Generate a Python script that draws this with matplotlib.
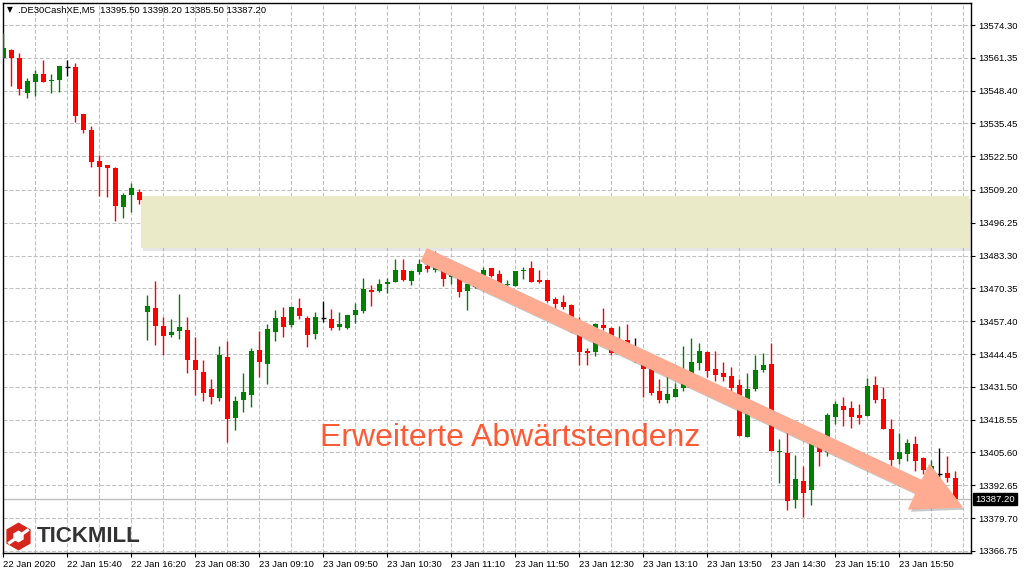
import numpy as np
import matplotlib
matplotlib.use("Agg")
import matplotlib.pyplot as plt
import matplotlib.patheffects as pe
from matplotlib.patches import Rectangle, Polygon, FancyArrowPatch
from matplotlib.transforms import IdentityTransform, blended_transform_factory

plt.rcParams['font.family'] = ['Liberation Sans', 'DejaVu Sans']
plt.rcParams['lines.scale_dashes'] = False

symbol = ".DE30CashXE,M5"

# M5 candles
opens = [13561.3, 13564.4, 13561.3, 13547.5, 13551.8, 13555.0, 13552.2, 13552.6, 13557.7, 13557.7,
         13539.2, 13532.9, 13520.6, 13519.1, 13517.9, 13502.5, 13507.2, 13508.4, 13461.1, 13462.6,
         13455.5, 13452.0, 13453.6, 13454.0, 13442.1, 13437.4, 13430.7, 13427.1, 13443.3, 13419.2,
         13426.3, 13428.3, 13446.1, 13440.5, 13453.2, 13459.1, 13455.9, 13462.6, 13458.7, 13452.4,
         13458.7, 13458.3, 13455.1, 13454.7, 13459.9, 13461.5, 13469.7, 13469.3, 13472.1, 13472.9,
         13477.6, 13473.3, 13476.8, 13479.2, 13477.6, 13481.6, 13474.9, 13474.9, 13469.3, 13470.9,
         13474.1, 13478.4, 13476.1, 13471.7, 13471.3, 13477.2, 13478.4, 13473.7, 13473.7, 13466.2,
         13465.0, 13463.8, 13457.5, 13445.7, 13445.3, 13455.9, 13454.7, 13446.9, 13450.0, 13444.5,
         13445.3, 13438.6, 13429.9, 13426.3, 13427.5, 13431.1, 13436.2, 13440.9, 13445.3, 13438.6,
         13437.0, 13435.8, 13432.3, 13411.7, 13430.7, 13438.2, 13440.5, 13405.8, 13405.4, 13386.9,
         13394.4, 13390.8, 13408.6, 13405.8, 13419.6, 13424.0, 13423.2, 13420.4, 13420.0, 13432.3,
         13426.7, 13414.9, 13403.1, 13405.0, 13409.0, 13403.4, 13397.9, 13397.1, 13397.5, 13395.5]
highs = [13571.2, 13564.8, 13563.3, 13553.4, 13556.6, 13560.5, 13555.0, 13558.1, 13560.5, 13559.3,
         13539.2, 13534.5, 13523.0, 13519.1, 13518.3, 13508.0, 13512.0, 13509.6, 13467.8, 13473.3,
         13459.1, 13458.3, 13468.2, 13459.1, 13451.2, 13442.1, 13434.6, 13447.6, 13449.6, 13427.9,
         13437.0, 13446.9, 13453.6, 13456.3, 13461.8, 13463.0, 13463.4, 13466.6, 13459.5, 13461.1,
         13465.4, 13462.2, 13461.1, 13459.9, 13464.6, 13474.5, 13471.7, 13474.1, 13474.5, 13482.0,
         13482.0, 13477.6, 13482.0, 13480.8, 13485.1, 13483.2, 13478.4, 13475.7, 13472.1, 13473.7,
         13478.8, 13478.4, 13477.6, 13473.7, 13477.2, 13478.8, 13481.2, 13477.6, 13473.7, 13467.0,
         13467.8, 13464.2, 13459.1, 13446.9, 13456.7, 13462.6, 13455.1, 13455.5, 13456.3, 13450.8,
         13446.1, 13438.6, 13434.6, 13436.2, 13433.0, 13447.6, 13450.8, 13448.8, 13445.7, 13445.7,
         13441.3, 13439.4, 13434.6, 13437.0, 13444.1, 13444.9, 13448.8, 13410.9, 13413.7, 13404.6,
         13400.3, 13410.6, 13413.3, 13421.2, 13425.9, 13427.5, 13425.9, 13424.8, 13435.0, 13435.8,
         13431.5, 13418.8, 13413.3, 13410.9, 13412.1, 13403.8, 13402.7, 13407.4, 13404.2, 13398.2]
lows = [13561.3, 13550.2, 13546.7, 13545.5, 13546.3, 13551.8, 13547.5, 13547.9, 13554.2, 13536.0,
        13531.7, 13518.3, 13506.8, 13506.4, 13497.0, 13498.2, 13500.5, 13503.7, 13450.0, 13448.0,
        13444.1, 13451.2, 13450.4, 13437.0, 13428.3, 13425.9, 13424.8, 13425.9, 13409.8, 13414.5,
        13421.6, 13423.6, 13435.4, 13432.6, 13449.6, 13451.2, 13455.1, 13458.3, 13447.2, 13450.4,
        13457.1, 13454.0, 13454.0, 13454.4, 13456.7, 13460.7, 13463.4, 13469.0, 13468.6, 13472.9,
        13473.3, 13471.7, 13476.1, 13476.8, 13476.8, 13471.3, 13472.1, 13467.0, 13461.8, 13470.5,
        13473.3, 13474.9, 13471.3, 13469.7, 13471.3, 13474.1, 13472.9, 13472.5, 13465.0, 13461.1,
        13462.2, 13453.2, 13440.1, 13440.1, 13443.7, 13454.0, 13444.1, 13445.3, 13445.3, 13441.3,
        13427.5, 13428.3, 13425.2, 13425.2, 13427.5, 13429.9, 13436.2, 13438.2, 13435.4, 13433.8,
        13433.8, 13429.9, 13412.1, 13411.7, 13429.9, 13437.4, 13406.2, 13393.6, 13382.9, 13383.7,
        13380.2, 13384.9, 13400.3, 13404.2, 13416.9, 13416.1, 13415.3, 13416.9, 13420.0, 13425.2,
        13414.9, 13400.3, 13401.1, 13402.3, 13398.3, 13397.1, 13395.6, 13394.0, 13394.0, 13385.5]
closes = [13565.2, 13561.3, 13549.1, 13552.2, 13555.0, 13551.8, 13552.6, 13558.1, 13557.7, 13538.4,
          13532.9, 13520.2, 13518.3, 13517.9, 13502.9, 13507.2, 13510.0, 13505.3, 13463.4, 13455.5,
          13451.6, 13453.2, 13455.1, 13442.1, 13438.2, 13429.1, 13427.5, 13444.1, 13418.8, 13425.9,
          13429.5, 13445.7, 13441.3, 13454.4, 13458.7, 13455.1, 13463.0, 13459.5, 13452.0, 13459.1,
          13458.7, 13454.7, 13456.3, 13459.9, 13461.8, 13470.1, 13469.0, 13472.1, 13472.9, 13477.6,
          13473.7, 13477.2, 13480.0, 13478.0, 13479.2, 13474.1, 13476.4, 13469.0, 13472.1, 13472.1,
          13477.6, 13475.3, 13471.3, 13472.1, 13477.2, 13477.6, 13472.9, 13472.9, 13465.4, 13464.2,
          13463.0, 13454.0, 13445.3, 13444.9, 13456.3, 13454.7, 13444.9, 13449.6, 13446.1, 13444.5,
          13438.6, 13429.1, 13426.3, 13428.7, 13430.7, 13433.4, 13441.3, 13445.7, 13437.8, 13436.2,
          13435.4, 13431.1, 13412.1, 13430.7, 13438.2, 13440.1, 13406.2, 13406.2, 13386.5, 13395.2,
          13389.6, 13409.8, 13405.8, 13420.4, 13424.8, 13422.4, 13419.6, 13419.2, 13431.9, 13426.3,
          13414.9, 13402.7, 13405.8, 13409.4, 13402.3, 13398.7, 13400.3, 13397.1, 13395.6, 13387.2]

time_labels = ['22 Jan 2020', '22 Jan 15:40', '22 Jan 16:20', '23 Jan 08:30', '23 Jan 09:10',
               '23 Jan 09:50', '23 Jan 10:30', '23 Jan 11:10', '23 Jan 11:50', '23 Jan 12:30',
               '23 Jan 13:10', '23 Jan 13:50', '23 Jan 14:30', '23 Jan 15:10', '23 Jan 15:50']
price_ticks = [13574.30, 13561.35, 13548.40, 13535.45, 13522.50, 13509.20, 13496.25, 13483.30,
               13470.35, 13457.40, 13444.45, 13431.50, 13418.55, 13405.60, 13392.65, 13379.70,
               13366.75]
last_price = 13387.20

# resistance zone and trend arrow (bar index, price)
zone_start = 17.15
zone_low, zone_high = 13486.3, 13506.8
arrow_from = (52.6, 13483.5)
arrow_to = (119.8, 13384.1)
note = "Erweiterte Abwärtstendenz"
note_pos = (39.6, 13411.3)

GREEN = '#008000'
RED = '#ff0000'
GRID = '#c0c0c0'
DASH = (0, (2.9, 1.45))

fig = plt.figure(figsize=(10.24, 5.76), dpi=100)
ax = fig.add_axes([3 / 1024, 23 / 576, 968 / 1024, 550 / 576])

o = np.array(opens)
h = np.array(highs)
l = np.array(lows)
c = np.array(closes)
x = np.arange(len(o))
col = np.where(c > o, GREEN, np.where(c < o, RED, 'black'))
flat = c == o

ax.vlines(x, l, h, colors=col, linewidth=1.0, zorder=3)
body_lo = np.minimum(o, c)
body_h = np.maximum(np.abs(c - o), 0.4)
ax.bar(x[~flat], body_h[~flat], bottom=body_lo[~flat], width=0.62,
       color=col[~flat], linewidth=0, zorder=4)
ax.hlines(o[flat], x[flat] - 0.35, x[flat] + 0.35, colors='black', linewidth=1.0, zorder=4)

ax.set_xlim(-0.06, 120.94)
ax.set_ylim(13365.9, 13583.0)

# zone
zone = Rectangle((zone_start, zone_low), 120.94 - 0.3 - zone_start, zone_high - zone_low,
                 facecolor='#eaeac9', edgecolor='none', zorder=1.5,
                 path_effects=[pe.SimplePatchShadow(offset=(1.5, -2), shadow_rgbFace='#999999', alpha=0.25),
                               pe.Normal()])
ax.add_patch(zone)

# current price line
ax.axhline(last_price, color=GRID, linewidth=1.0, zorder=2)

# arrow
arr = FancyArrowPatch(arrow_from, arrow_to,
                      arrowstyle='simple,tail_width=0.49,head_width=1.76,head_length=1.7',
                      mutation_scale=20, color='#ffab92', shrinkA=0, shrinkB=0, zorder=5,
                      path_effects=[pe.SimplePatchShadow(offset=(1.5, -2), shadow_rgbFace='#666666', alpha=0.35),
                                    pe.Normal()])
ax.add_patch(arr)

ax.text(note_pos[0], note_pos[1], note, fontsize=23, color='#ff5a36', ha='left', va='center', zorder=6)

# axes styling
ax.set_axisbelow(True)
ax.set_xticks(x[::8])
ax.set_xticklabels(time_labels, ha='left')
ax.set_xticks(np.arange(0, 121, 4), minor=True)
ax.set_yticks(price_ticks)
ax.set_yticklabels(['%.2f' % p for p in price_ticks])
ax.yaxis.tick_right()
ax.tick_params(axis='both', which='major', labelsize=6.8, length=3, width=0.8, color='black', pad=2)
ax.tick_params(axis='x', which='minor', length=0)
ax.grid(True, axis='x', which='both', color=GRID, linestyle=DASH, linewidth=0.75)
ax.grid(True, axis='y', which='major', color=GRID, linestyle=DASH, linewidth=0.75)
for s in ax.spines.values():
    s.set_color('black')
    s.set_linewidth(1.0)

trans = blended_transform_factory(ax.transAxes, ax.transData)
ax.text(1.0045, last_price, '%.2f' % last_price, transform=trans, color='white', fontsize=6.8,
        ha='left', va='center', zorder=7, clip_on=False,
        bbox=dict(boxstyle='square,pad=0.2', fc='black', ec='black'))

# header
px = IdentityTransform()
fig.text(7, 566, '\u25bc', transform=px, fontsize=5.5, va='center', family=['DejaVu Sans'])
fig.text(18, 566, '%s  13395.50 13398.20 13385.50 13387.20' % symbol, transform=px,
         fontsize=6.8, va='center')

# logo
cx, cy, r = 18.5, 39.5, 14.0
ang = np.deg2rad(90 + 60 * np.arange(6))
fig.add_artist(Polygon(np.c_[cx + r * np.cos(ang), cy + r * np.sin(ang)], closed=True,
                       fc='#d6251c', ec='none', transform=px))
fig.add_artist(Polygon(np.c_[cx + 6 * np.cos(ang), cy + 6 * np.sin(ang)], closed=True,
                       fc='white', ec='none', transform=px))
for sgn in (1, -1):
    gx, gy = cx + sgn * 6.5, cy + sgn * 4.5
    d = np.array([[-1.6, -4.5], [1.6, -4.5], [1.6, 4.5], [-1.6, 4.5]])
    th = np.deg2rad(-55)
    rot = np.array([[np.cos(th), -np.sin(th)], [np.sin(th), np.cos(th)]])
    fig.add_artist(Polygon(d @ rot.T + [gx, gy], closed=True, fc='white', ec='none', transform=px))
fig.text(37, 39.5, 'TICKMILL', transform=px, fontsize=16, fontweight='bold', color='#333333',
         va='center')

fig.savefig('out.png', dpi=100)
